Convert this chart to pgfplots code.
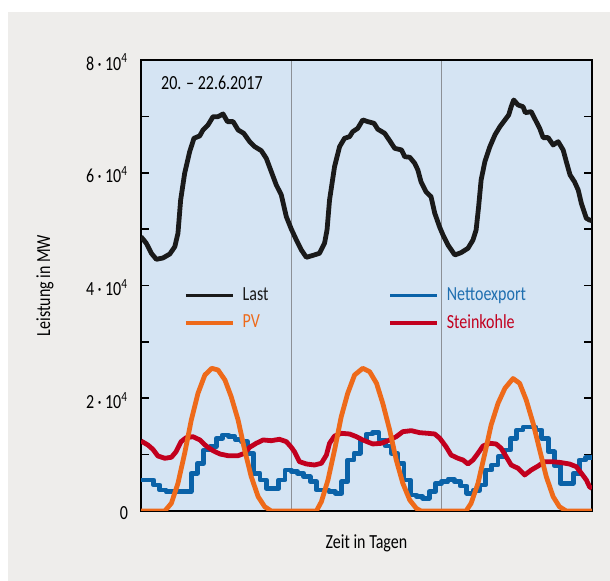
\documentclass[border=0pt]{standalone}
\usepackage{fontspec}
\setmainfont{Carlito}[FakeStretch=0.8]
\usepackage{pgfplots}
\pgfplotsset{compat=1.18}

\definecolor{panel}{HTML}{EEEDEB}
\definecolor{plotbg}{HTML}{D5E4F3}
\definecolor{last}{HTML}{1A1A1A}
\definecolor{pv}{HTML}{EE6A1A}
\definecolor{netto}{HTML}{0A62A8}
\definecolor{nettotxt}{HTML}{1F6FB0}
\definecolor{kohle}{HTML}{C2001E}
\definecolor{gridgray}{HTML}{8C9096}

\newcommand{\lbl}{\fontsize{10}{12}\selectfont}
\newcommand{\tl}[1]{#1\,·\,10\textsuperscript{4}}

\begin{document}
\begin{tikzpicture}[x=0.5pt,y=0.5pt]
\useasboundingbox (0,0) rectangle (610,581);
\fill[white] (0,0) rectangle (610,581);
\fill[panel] (8,0) rectangle (610,569);
\begin{axis}[
    at={(70.5pt,35pt)}, anchor=south west,
    width=225.5pt, height=225.5pt, scale only axis,
    xmin=0, xmax=72, ymin=0, ymax=80000,
    axis background/.style={fill=plotbg},
    axis line style={black, line width=1pt},
    xtick={24,48}, xticklabels={}, xtick style={draw=none},
    xmajorgrids, major grid style={gridgray, line width=0.6pt},
    ytick={0,10000,...,80000},
    yticklabels={0,{},{\tl{2}},{},{\tl{4}},{},{\tl{6}},{},{\tl{8}}},
    scaled y ticks=false,
    tick align=inside, major tick length=4pt,
    ytick style={black, line width=0.8pt},
    yticklabel style={font=\lbl, xshift=-3pt, yshift=-1pt},
    xlabel={Zeit in Tagen}, ylabel={Leistung in MW},
    every axis x label/.style={at={(axis description cs:0.5,-0.071)}, anchor=center, font=\lbl},
    every axis y label/.style={at={(axis description cs:-0.213,0.5)}, rotate=90, anchor=center, font=\lbl},
    legend columns=2, transpose legend,
    legend cell align=left,
    legend style={at={(axis description cs:0.095,0.505)}, anchor=north west,
        draw=none, fill=none, inner sep=0pt, font=\lbl, row sep=1.5pt,
        /tikz/column 2/.style={column sep=58pt}},
    legend image code/.code={\draw[#1, line width=1.7pt] (0pt,0pt) -- (23.5pt,0pt);},
    every axis plot/.append style={line width=2.4pt, line join=round},
]
\addlegendimage{last}\addlegendentry{\hspace{2pt}\textcolor{last}{Last}}
\addlegendimage{pv}\addlegendentry{\hspace{2pt}\textcolor{pv}{PV}}
\addlegendimage{netto}\addlegendentry{\hspace{2pt}\textcolor{nettotxt}{Nettoexport}}
\addlegendimage{kohle}\addlegendentry{\hspace{2pt}\textcolor{kohle}{Steinkohle}}

% Nettoexport (stundenweise Stufen)
\addplot[netto, const plot, forget plot] coordinates {
(0,5500) (2,4610) (3,3730) (4,3430) (8,6690) (9,8460) (10,10820) (11,11410)
(12,12900) (13,13480) (14,13180) (15,12720) (16,12300) (17,10240) (18,6690)
(19,5500) (20,4020) (22,5500) (23,7270) (24,6980) (25,6690) (26,6090) (27,5200)
(28,3730) (30,3430) (31,3140) (32,5200) (33,9050) (34,10240) (35,12600)
(36,13660) (37,13890) (38,12600) (39,11530) (40,10240) (41,8460) (42,5500)
(43,2840) (44,2540) (45,2250) (46,3430) (47,4910) (48,5200) (49,5620) (50,5200)
(51,4430) (52,3140) (53,3610) (54,4610) (55,7270) (56,8160) (57,9630)
(58,10820) (59,12900) (60,14370) (61,14900) (63,14370) (64,12900) (65,10500)
(66,8000) (67,4910) (69,6690) (70,9050) (71,9500) (72,9500)};

% Steinkohle
\addplot[kohle, forget plot] coordinates {
(0,12420) (1.1,11710) (1.9,10940) (2.7,9760) (3.8,9350) (4.85,9530) (5.6,10520)
(6.4,12300) (7.2,13000) (8.3,13180) (9.4,12600) (10.4,11530) (11.5,10700)
(12.6,10110) (13.9,9810) (15.5,9810) (16.55,10240) (17.35,11300) (18.4,12010)
(19.5,12600) (20.8,12470) (22.1,12720) (23.2,12300) (24,11300) (24.5,10520)
(25.3,8750) (26.4,8340) (27.7,8160) (28.8,8460) (29.6,9930) (30.1,12010)
(30.9,13300) (31.98,13780) (33.3,13660) (34.4,13180) (35.4,12600) (37,11890)
(38.4,12010) (39.7,12600) (40.75,13180) (41.8,14070) (43.15,14250) (44.5,13890)
(45.8,13780) (46.9,13660) (47.7,12900) (48.7,11410) (49.5,9930) (50.6,9350)
(51.4,9050) (52.2,8340) (53,9050) (53.8,10240) (54.6,11530) (55.7,12010)
(56.7,11890) (57.5,11120) (58.3,9630) (59.1,8160) (60.2,7570) (61.25,6390)
(62.3,7270) (63.4,7980) (64.4,8750) (65.5,8750) (66.8,8630) (68.4,8340)
(69.5,7860) (70.3,6690) (71.1,5500) (71.6,4310) (72,4000)};

% PV
\addplot[pv, forget plot] coordinates {
(0,0) (3.8,0) (4.85,1370) (5.9,4910) (6.97,10240) (8.03,16140) (9.1,20880)
(10.2,24130) (11.3,25310) (12.3,25010) (13.4,23240) (14.4,20280) (15.5,16140)
(16.55,10820) (17.6,6090) (18.7,2540) (19.75,760) (20.8,0) (28,0) (28.8,1650)
(29.85,5500) (30.9,10820) (31.97,16730) (33,20880) (34.1,24130) (35.4,25310)
(36.5,24720) (37.6,22650) (38.6,19100) (39.7,14370) (40.75,9050) (41.8,4910)
(42.9,1950) (43.95,470) (44.7,0) (51.9,0) (52.7,1370) (53.8,4910) (54.9,10240)
(55.9,15260) (57,19100) (58.1,21770) (59.4,23500) (60.45,22650) (61.5,19690)
(62.6,15560) (63.65,10820) (64.7,6090) (65.8,2540) (66.8,760) (67.9,0) (72,0)};

% Last
\addplot[last, forget plot] coordinates {
(0,48660) (0.85,47490) (1.65,45720) (2.45,44650) (3.5,44880) (4.6,45590)
(5.4,46890) (5.9,49260) (6.33,55170) (6.97,59910) (7.77,63740) (8.46,66120)
(9.37,66530) (9.9,67590) (10.7,68480) (11.5,69950) (12.3,69950) (13.1,70430)
(13.8,69070) (14.7,69070) (15.5,67590) (16.4,67000) (17.35,65520) (18.15,64630)
(19.2,63920) (20,62570) (20.8,60190) (21.6,57830) (22.4,56060) (23.2,52210)
(24,50000) (24.8,48080) (25.6,46300) (26.4,45000) (27.5,45360) (28.5,45720)
(29.3,47490) (29.7,49850) (30.1,55170) (30.9,61080) (31.7,64630) (32.5,66120)
(33.3,66400) (33.8,67290) (34.6,67880) (35.4,69370) (36.2,69070) (37.2,68780)
(37.8,67720) (38.9,67000) (39.7,65690) (40.5,64340) (41.6,64040) (42.1,62850)
(42.9,62750) (43.7,61680) (44.2,60490) (44.7,58420) (45.5,56640) (46.3,55760)
(46.9,52810) (47.7,50300) (48.2,49000) (49,47190) (50.1,45410) (51.1,45830)
(52.2,46600) (53,48080) (53.5,49850) (53.9,53980) (54.3,58720) (54.9,61970)
(55.7,64630) (56.5,66700) (57.3,68180) (58.1,69370) (58.7,70250) (59.1,71720)
(59.5,72910) (60.2,72020) (61,71720) (61.35,70660) (62.3,70840) (63.1,69070)
(63.65,67880) (64.2,66230) (65,66230) (65.8,64930) (66.6,65510) (67.4,64040)
(67.9,61970) (68.5,59600) (69.2,58420) (69.8,56940) (70.3,54580) (71.1,51920)
(71.6,51620) (72,51500)};

\node[anchor=west, font=\lbl] at (axis description cs:0.029,0.949) {20. – 22.6.2017};
\end{axis}
\end{tikzpicture}
\end{document}
